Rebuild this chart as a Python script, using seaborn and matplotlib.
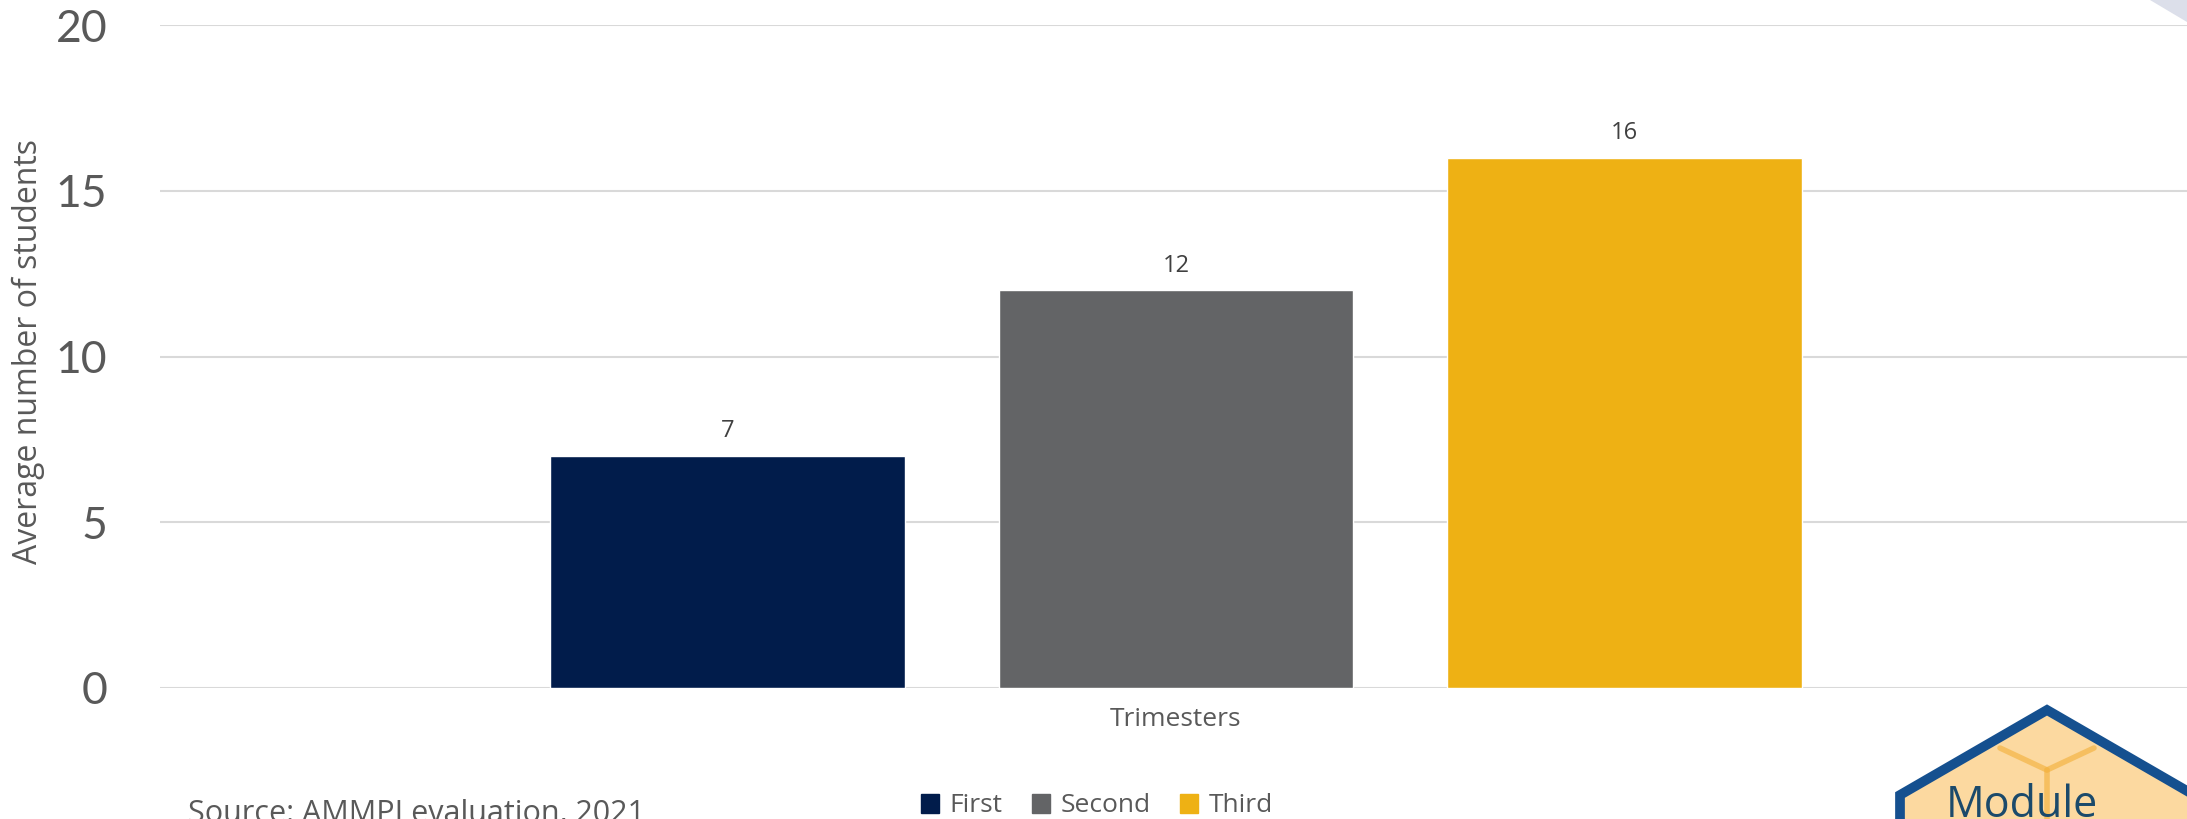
import matplotlib
matplotlib.use("Agg")
import matplotlib.pyplot as plt
import seaborn as sns
import pandas as pd
from matplotlib.patches import Polygon, Rectangle
from matplotlib.lines import Line2D

# ---- data ----
category = ["Trimesters"]
trimesters = ["First", "Second", "Third"]
values = [7, 12, 16]
colors = ["#011C4B", "#636466", "#EEB114"]
y_ticks = [0, 5, 10, 15, 20]
y_label = "Average number of students"
source_text = "Source: AMMPI evaluation, 2021"

df = pd.DataFrame({"group": category * len(trimesters),
                   "Trimester": trimesters,
                   "value": values})

sns.set_style("white")
plt.rcParams["font.family"] = ["Open Sans", "DejaVu Sans"]
text_gray = "#595959"

W, H = 2187, 819
fig = plt.figure(figsize=(W / 100, H / 100), dpi=100)
ax = fig.add_axes([160 / W, 131 / H, 2032 / W, 663 / H])

sns.barplot(data=df, x="group", y="value", hue="Trimester",
            palette=colors, hue_order=trimesters, gap=0.21,
            saturation=1, ax=ax, legend=False, errorbar=None)

ax.set_ylim(0, 20)
ax.set_xlim(-0.604, 0.604)
ax.set_yticks(y_ticks)
ax.set_yticklabels([str(t) for t in y_ticks], family=["Lato", "DejaVu Sans"],
                   fontsize=32, color=text_gray)
ax.tick_params(axis="y", length=0, pad=38)
ax.tick_params(axis="x", length=0, pad=14, labelsize=19, labelcolor=text_gray)
ax.set_xlabel("")
ax.set_ylabel("")
ax.grid(axis="y", color="#D9D9D9", linewidth=1.5)
ax.set_axisbelow(True)
for s in ax.spines.values():
    s.set_visible(False)

for cont in ax.containers:
    ax.bar_label(cont, fmt="%d", padding=9, fontsize=17, color="#404040")

fig.text(28 / W, 1 - 352 / H, y_label, rotation=90, ha="center", va="center",
         fontsize=23, color=text_gray,
         family=["Liberation Sans Narrow", "Open Sans", "DejaVu Sans"])

# legend
handles = [Rectangle((0, 0), 1, 1, color=c) for c in colors]
fig.legend(handles, trimesters, loc="center", bbox_to_anchor=(1097 / W, 1 - 806 / H),
           ncol=3, frameon=False, fontsize=19, handlelength=0.7, handleheight=0.7,
           handletextpad=0.4, columnspacing=1.1, labelcolor=text_gray)

fig.text(188 / W, 1 - 814 / H, source_text, ha="left", va="center",
         fontsize=22, color=text_gray)

# decorations: logo hexagon bottom-right, corner triangle top-right
def fc(pts):
    return [(x / W, 1 - y / H) for x, y in pts]

hexpts = [(2047, 710), (1900, 795), (1900, 900), (2194, 900), (2194, 795)]
fig.patches.append(Polygon(fc(hexpts), closed=True,
                           transform=fig.transFigure, facecolor="#FCD9A0",
                           edgecolor="#15508F", linewidth=7, zorder=5))
for seg in [[(2000, 748), (2047, 770)], [(2094, 748), (2047, 770)], [(2047, 770), (2047, 830)]]:
    p = fc(seg)
    fig.lines.append(Line2D([p[0][0], p[1][0]], [p[0][1], p[1][1]],
                            transform=fig.transFigure, color="#F4B545",
                            linewidth=4, alpha=0.7, zorder=5.5))
fig.text(2022 / W, 1 - 806 / H, "Module", ha="center", va="center",
         fontsize=31, color="#1B4A6B", zorder=6)
tri = [(2150, 0), (2187, 0), (2187, 22)]
fig.patches.append(Polygon(fc(tri), closed=True,
                           transform=fig.transFigure, facecolor="#DCDFEA",
                           edgecolor="none", zorder=5))

fig.savefig("out.png", dpi=100)
